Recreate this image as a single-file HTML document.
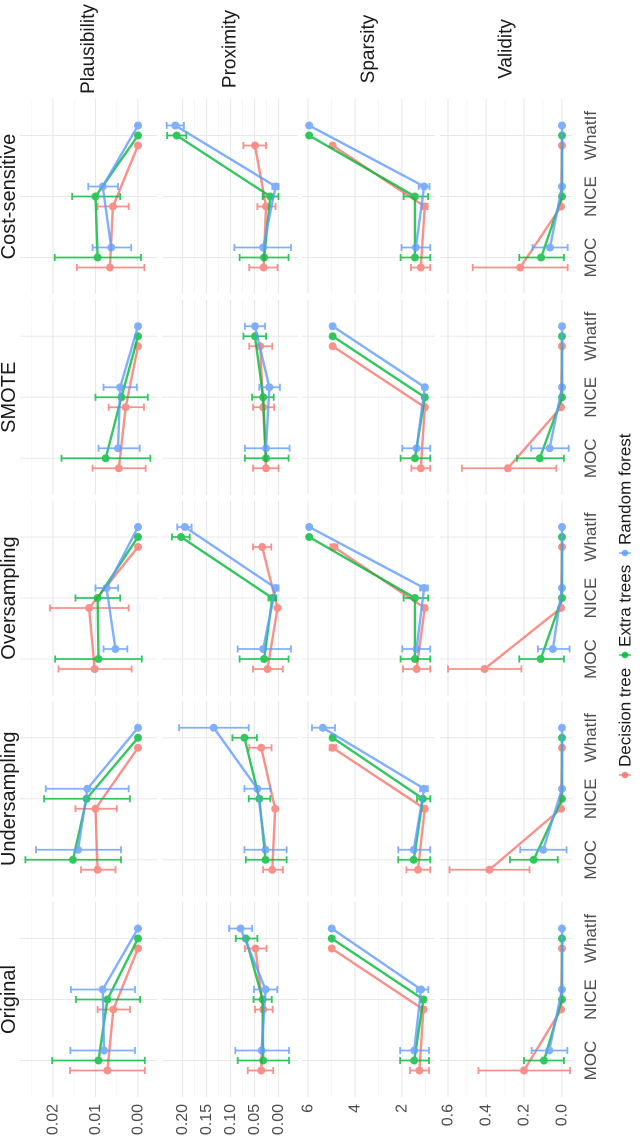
<!DOCTYPE html>
<html><head><meta charset="utf-8"><style>
html,body{margin:0;padding:0;background:#fff;}
svg{display:block;font-family:"Liberation Sans",sans-serif;}
</style></head><body>
<svg id="chart" width="640" height="1141" viewBox="0 0 640 1141" xmlns="http://www.w3.org/2000/svg">
<g id="root" transform="translate(0,1141) rotate(-90)"></g>
</svg>
<script>
const techniques = ["Original","Undersampling","Oversampling","SMOTE","Cost-sensitive"];
const methods = ["MOC","NICE","WhatIf"];
const metrics = ["Plausibility","Proximity","Sparsity","Validity"];
const models = ["Decision tree","Extra trees","Random forest"];

const plaus_dt_mean=[[.0072,.0058,0],[.0095,.0100,0],[.0102,.0115,0],[.0045,.0029,0],[.0066,.0059,0]];
const plaus_dt_lo=[[-.0016,.0019,0],[.0053,.005,0],[.0015,.0022,0],[-.0018,-.0014,0],[-.0015,.0022,0]];
const plaus_dt_hi=[[.016,.0095,0],[.0134,.0147,0],[.0187,.0207,0],[.0107,.0069,0],[.0144,.0095,0]];
const plaus_et_mean=[[.0093,.0072,0],[.0153,.0121,0],[.0093,.0095,0],[.0076,.0039,0],[.0095,.0100,0]];
const plaus_et_lo=[[-.0016,-.0005,0],[.004,.0019,0],[-.0009,.0042,0],[-.0029,-.0023,0],[-.0007,.0042,0]];
const plaus_et_hi=[[.0202,.0146,0],[.0265,.0221,0],[.0195,.0147,0],[.018,.010,0],[.0196,.0155,0]];
const plaus_rf_mean=[[.008,.0083,0],[.0141,.0119,0],[.0053,.0074,0],[.0047,.0042,0],[.0063,.0083,0]];
const plaus_rf_lo=[[.0007,.0007,0],[.004,.0022,0],[.0025,.0047,0],[-.0004,.0003,0],[.0016,.0047,0]];
const plaus_rf_hi=[[.0159,.0158,0],[.024,.0217,0],[.0081,.010,0],[.0093,.0081,0],[.0107,.0117,0]];

const prox_dt_mean=[[.036,.032,.048],[.013,.007,.036],[.023,.002,.034],[.026,.032,.038],[.031,.026,.049]];
const prox_dt_lo=[[.011,.012,.025],[-.009,.007,.0145],[-.009,.002,.015],[0,.009,.013],[.002,.006,.026]];
const prox_dt_hi=[[.064,.049,.07],[.032,.007,.061],[.053,.002,.053],[.053,.053,.061],[.061,.044,.073]];
const prox_et_mean=[[.032,.033,.068],[.027,.040,.071],[.030,.013,.203],[.026,.032,.049],[.030,.017,.212]];
const prox_et_lo=[[-.022,.014,.044],[-.017,.017,.045],[-.021,.005,.185],[-.021,.010,.026],[-.021,0,.192]];
const prox_et_hi=[[.085,.052,.089],[.068,.062,.096],[.081,.021,.222],[.070,.055,.073],[.081,.033,.232]];
const prox_rf_mean=[[.035,.027,.079],[.027,.044,.135],[.032,.006,.195],[.026,.019,.049],[.032,.006,.215]];
const prox_rf_lo=[[-.022,.0025,.055],[-.017,.017,.062],[-.026,0,.181],[-.023,-.003,.028],[-.026,0,.197]];
const prox_rf_hi=[[.09,.051,.103],[.071,.071,.207],[.085,.01,.211],[.070,.040,.070],[.092,.013,.233]];

const spar_dt_mean=[[1.26,1.09,4.99],[1.32,1.03,4.95],[1.38,1.03,4.9],[1.20,1.03,4.95],[1.20,1.03,4.95]];
const spar_dt_lo=[[0.85,1.0,4.95],[0.8,0.98,4.8],[0.8,0.98,4.75],[0.8,0.98,4.9],[0.8,0.91,4.9]];
const spar_dt_hi=[[1.66,1.15,5.03],[1.81,1.08,5.08],[1.96,1.08,5.05],[1.6,1.08,5.0],[1.62,1.15,5.0]];
const spar_et_mean=[[1.48,1.09,4.99],[1.50,1.11,4.95],[1.45,1.45,5.95],[1.45,1.03,4.95],[1.45,1.45,5.95]];
const spar_et_lo=[[0.85,1.0,4.97],[0.80,0.80,4.87],[0.8,0.89,5.92],[0.8,0.95,4.92],[0.8,0.89,5.92]];
const spar_et_hi=[[2.08,1.2,5.01],[2.16,1.36,5.03],[2.06,1.93,5.98],[2.06,1.1,4.98],[2.06,1.93,5.98]];
const spar_rf_mean=[[1.48,1.19,4.99],[1.50,1.06,5.37],[1.38,1.06,5.95],[1.38,1.03,4.95],[1.41,1.06,5.95]];
const spar_rf_lo=[[0.85,0.88,4.97],[0.8,0.9,4.85],[0.8,0.9,5.92],[0.8,0.95,4.92],[0.8,0.83,5.92]];
const spar_rf_hi=[[2.08,1.37,5.01],[2.16,1.23,5.83],[1.99,1.23,5.98],[1.99,1.1,4.98],[2.02,1.29,5.98]];

const val_dt_mean=[[.2,.005,0],[.382,.005,0],[.408,.005,0],[.285,.005,0],[.22,.005,0]];
const val_dt_lo=[[-.042,0,0],[.171,0,0],[.214,0,0],[.03,0,0],[-.03,0,0]];
const val_dt_hi=[[.44,.01,0],[.592,.01,0],[.60,.01,0],[.527,.01,0],[.47,.01,0]];
const val_et_mean=[[.095,0,0],[.149,0,0],[.112,0,0],[.117,0,0],[.11,0,0]];
const val_et_lo=[[-.01,0,0],[.022,0,0],[-.01,0,0],[-.01,0,0],[-.01,0,0]];
const val_et_hi=[[.2,0,0],[.274,0,0],[.225,0,0],[.237,0,0],[.225,0,0]];
const val_rf_mean=[[.067,0,0],[.099,0,0],[.048,0,0],[.065,0,0],[.063,0,0]];
const val_rf_lo=[[-.028,0,0],[-.024,0,0],[-.04,0,0],[-.035,0,0],[-.03,0,0]];
const val_rf_hi=[[.16,0,0],[.22,0,0],[.127,0,0],[.162,0,0],[.155,0,0]];

const plaus_ticks=["0.00","0.01","0.02"];
const prox_ticks=["0.00","0.05","0.10","0.15","0.20"];
const spar_ticks=["2","4","6"];
const val_ticks=["0.0","0.2","0.4","0.6"];

const NS="http://www.w3.org/2000/svg";
const root=document.getElementById('root');
function mk(tag,attrs,parent){const e=document.createElementNS(NS,tag);for(const k in attrs)e.setAttribute(k,attrs[k]);(parent||root).appendChild(e);return e;}

const rows=[
 {top:20,bot:157,scale:v=>138-v*4250,ticks:plaus_ticks,minor:[.005,.015,.025],data:[[plaus_dt_mean,plaus_dt_lo,plaus_dt_hi],[plaus_et_mean,plaus_et_lo,plaus_et_hi],[plaus_rf_mean,plaus_rf_lo,plaus_rf_hi]]},
 {top:162,bot:298,scale:v=>278.5-v*480,ticks:prox_ticks,minor:[.025,.075,.125,.175],data:[[prox_dt_mean,prox_dt_lo,prox_dt_hi],[prox_et_mean,prox_et_lo,prox_et_hi],[prox_rf_mean,prox_rf_lo,prox_rf_hi]]},
 {top:302,bot:435,scale:v=>308+(6-v)*23.5,ticks:spar_ticks,minor:[1,3,5],data:[[spar_dt_mean,spar_dt_lo,spar_dt_hi],[spar_et_mean,spar_et_lo,spar_et_hi],[spar_rf_mean,spar_rf_lo,spar_rf_hi]]},
 {top:440,bot:572,scale:v=>562-v*190,ticks:val_ticks,minor:[.1,.3,.5],data:[[val_dt_mean,val_dt_lo,val_dt_hi],[val_et_mean,val_et_lo,val_et_hi],[val_rf_mean,val_rf_lo,val_rf_hi]]}
];
const colors=["#F8766D","#00BA38","#619CFF"];
const dodge=[-10,0,10];
function colLeft(j){return 44+j*200.75;}
function catU(j,k){return colLeft(j)+97.5+(k-1)*61;}

rows.forEach((r,i)=>{
 techniques.forEach((t,j)=>{
  const uL=colLeft(j),uR=uL+195;
  const g=mk('g',{});
  
  
  r.minor.forEach(m=>{const y=r.scale(m);if(y>r.top&&y<r.bot)mk('line',{x1:uL,x2:uR,y1:y,y2:y,stroke:'#f2f2f2','stroke-width':0.7},g);});
  r.ticks.forEach(tk=>{const y=r.scale(parseFloat(tk));mk('line',{x1:uL,x2:uR,y1:y,y2:y,stroke:'#e8e8e8','stroke-width':1.1},g);});
  methods.forEach((m,k)=>{const x=catU(j,k);mk('line',{x1:x,x2:x,y1:r.top,y2:r.bot,stroke:'#e8e8e8','stroke-width':1.1},g);});
 });
 r.ticks.forEach(tk=>{
  const t=mk('text',{x:37,y:r.scale(parseFloat(tk)),'text-anchor':'end','dominant-baseline':'central','font-size':16,fill:'#4d4d4d'});
  t.textContent=tk;
  
  
 });
 const rl=mk('text',{x:1092,y:(r.top+r.bot)/2,'text-anchor':'middle','dominant-baseline':'central','font-size':19,fill:'#1a1a1a'});
 rl.textContent=metrics[i];
 
 
});

techniques.forEach((t,j)=>{
 const cl=mk('text',{x:colLeft(j)+97.5,y:15,'text-anchor':'middle','font-size':20,fill:'#1a1a1a'});
 cl.textContent=t;
 
 
 methods.forEach((m,k)=>{
  const xl=mk('text',{x:catU(j,k),y:596,'text-anchor':'middle','font-size':17,fill:'#4d4d4d'});
  xl.textContent=m;
  
  
 });
});

rows.forEach((r,i)=>{
 techniques.forEach((t,j)=>{
  models.forEach((md,s)=>{
   const [mean,lo,hi]=r.data[s];
   const g=mk('g',{opacity:0.8});
   
   
   const pts=methods.map((m,k)=>[catU(j,k)+dodge[s],r.scale(mean[j][k])]);
   const pl=mk('polyline',{points:pts.map(p=>p.join(',')).join(' '),fill:'none',stroke:colors[s],'stroke-width':2.4},g);
   
   
   methods.forEach((m,k)=>{
    const x=catU(j,k)+dodge[s];
    const y1=r.scale(lo[j][k]),y2=r.scale(hi[j][k]);
    if(Math.abs(y1-y2)>1){
     mk('line',{x1:x,x2:x,y1:y1,y2:y2,stroke:colors[s],'stroke-width':1.8},g);
     mk('line',{x1:x-3.5,x2:x+3.5,y1:y1,y2:y1,stroke:colors[s],'stroke-width':1.8},g);
     mk('line',{x1:x-3.5,x2:x+3.5,y1:y2,y2:y2,stroke:colors[s],'stroke-width':1.8},g);
    }
    const c=mk('circle',{cx:x,cy:r.scale(mean[j][k]),r:4,fill:colors[s]},g);
    
    
   });
  });
 });
});

const legU=[366,486,588];
models.forEach((md,s)=>{
 const g=mk('g',{});
 
 
 mk('line',{x1:legU[s],x2:legU[s],y1:619,y2:631,stroke:colors[s],'stroke-width':1.5,opacity:0.8},g);
 mk('circle',{cx:legU[s],cy:625,r:3.3,fill:colors[s],opacity:0.85},g);
 const tx=mk('text',{x:legU[s]+8,y:625,'dominant-baseline':'central','font-size':17,fill:'#1a1a1a'},g);
 tx.textContent=md;
});
</script>
</body></html>
